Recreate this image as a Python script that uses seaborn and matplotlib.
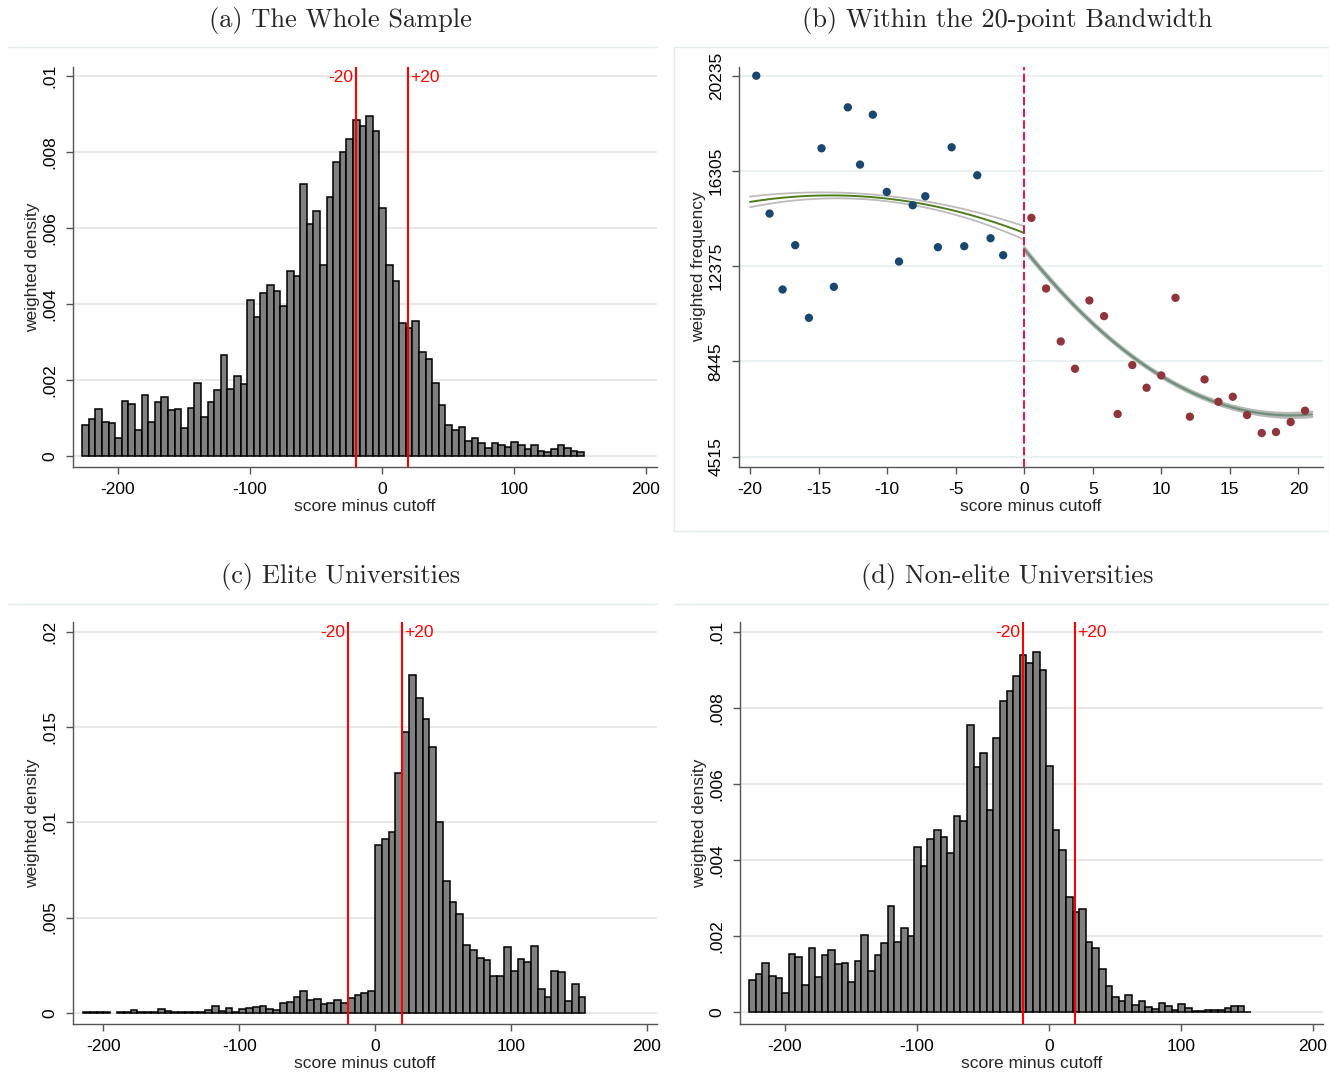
import numpy as np
import pandas as pd
import matplotlib
matplotlib.use("Agg")
import matplotlib.pyplot as plt
import matplotlib.transforms as mtransforms
from matplotlib.lines import Line2D
from matplotlib.patches import Rectangle
import seaborn as sns

# ---------------------------------------------------------------- data
# (a) whole sample: weighted density, 5-point bins starting at -227
whole_bin_start = -227
whole_density = [
    0.000814, 0.000962, 0.001225, 0.000892, 0.000866, 0.000481, 0.001444, 0.001365, 0.000682, 0.001601,
    0.000892, 0.001417, 0.001549, 0.001199, 0.001225, 0.000744, 0.001269, 0.001916, 0.001032, 0.001417,
    0.001724, 0.002651, 0.001750, 0.002100, 0.001900, 0.004112, 0.003657, 0.004287, 0.004506, 0.004348,
    0.003955, 0.004873, 0.004742, 0.007157, 0.006107, 0.006448, 0.005031, 0.006807, 0.007725, 0.007988,
    0.008346, 0.008845, 0.008679, 0.008941, 0.008548, 0.006518, 0.005013, 0.004593, 0.003508, 0.003377,
    0.003552, 0.002747, 0.002563, 0.001907, 0.001339, 0.000822, 0.000682, 0.000752, 0.000394, 0.000464,
    0.000341, 0.000219, 0.000341, 0.000280, 0.000245, 0.000367, 0.000280, 0.000175, 0.000289, 0.000122,
    0.000105, 0.000192, 0.000289, 0.000219, 0.000131, 0.000105,
]

# (c) elite universities: 5-point bins starting at -215
elite_bin_start = -215
elite_density = [
    0.00003, 0.00003, 0.00003, 0.00003, 0.0, 0.00003, 0.00003, 0.00015, 0.00003, 0.00003,
    0.00003, 0.00020, 0.00010, 0.00003, 0.00003, 0.00003, 0.00003, 0.00003, 0.00015, 0.00035,
    0.00011, 0.00025, 0.00005, 0.00020, 0.00024, 0.00029, 0.00034, 0.00021, 0.00016, 0.00050,
    0.00056, 0.00082, 0.00115, 0.00065, 0.00070, 0.00047, 0.00052, 0.00067, 0.00051, 0.00077,
    0.00091, 0.00105, 0.00116, 0.00879, 0.00912, 0.00947, 0.01261, 0.01477, 0.01774, 0.01654,
    0.01544, 0.01397, 0.01004, 0.00693, 0.00583, 0.00516, 0.00356, 0.00330, 0.00288, 0.00277,
    0.00191, 0.00191, 0.00344, 0.00218, 0.00283, 0.00265, 0.00349, 0.00125, 0.00083, 0.00219,
    0.00216, 0.00063, 0.00153, 0.00083,
]

# (d) non-elite universities: 5-point bins starting at -227
nonelite_bin_start = -227
nonelite_density = [
    0.000859, 0.000999, 0.001297, 0.000955, 0.000903, 0.000500, 0.001534, 0.001455, 0.000719, 0.001700,
    0.000938, 0.001507, 0.001648, 0.001271, 0.001297, 0.000789, 0.001341, 0.002033, 0.001087, 0.001507,
    0.001814, 0.002796, 0.001858, 0.002226, 0.002007, 0.004347, 0.003848, 0.004566, 0.004803, 0.004610,
    0.004198, 0.005153, 0.005022, 0.007564, 0.006459, 0.006827, 0.005329, 0.007222, 0.008195, 0.008457,
    0.008852, 0.009386, 0.009176, 0.009483, 0.009001, 0.006477, 0.004803, 0.004277, 0.003041, 0.002629,
    0.002726, 0.001840, 0.001700, 0.001148, 0.000701, 0.000412, 0.000307, 0.000456, 0.000193, 0.000289,
    0.000149, 0.000079, 0.000237, 0.000167, 0.000060, 0.000219, 0.000114, 0.000040, 0.000040, 0.000070,
    0.000050, 0.000050, 0.000105, 0.000167, 0.000167, 0.000020,
]
bin_width = 5

# (b) binned weighted frequency within 20 points of the cutoff
below_score = [-19.54, -18.57, -17.62, -16.70, -15.70, -14.78, -13.88, -12.86, -11.97, -11.04,
               -10.02, -9.13, -8.13, -7.21, -6.29, -5.29, -4.37, -3.42, -2.45, -1.53]
below_freq = [20235, 14547, 11414, 13242, 10246, 17240, 11524, 18930, 16567, 18627,
              15440, 12568, 14890, 15261, 13159, 17281, 13200, 16127, 13530, 12829]
above_score = [0.53, 1.60, 2.67, 3.71, 4.76, 5.83, 6.82, 7.89, 8.93, 10.00,
               11.04, 12.09, 13.16, 14.17, 15.22, 16.26, 17.33, 18.37, 19.44, 20.49]
above_freq = [14368, 11455, 9271, 8144, 10961, 10315, 6275, 8295, 7361, 7869,
              11071, 6166, 7704, 6783, 6989, 6234, 5492, 5533, 5945, 6413]

# quadratic fits: fitted value and CI half-width at three scores on each side
below_fit_x = [-20, -10, 0]
below_fit_y = [15027, 15165, 13750]
below_fit_hw = [220, 110, 275]
above_fit_x = [0, 10, 21]
above_fit_y = [13090, 7842, 6262]
above_fit_hw = [70, 50, 100]

# ticks
hist_xticks = [-200, -100, 0, 100, 200]
hist_xticklabels = ["-200", "-100", "0", "100", "200"]
dens_yticks = [0, 0.002, 0.004, 0.006, 0.008, 0.01]
dens_yticklabels = ["0", ".002", ".004", ".006", ".008", ".01"]
elite_yticks = [0, 0.005, 0.01, 0.015, 0.02]
elite_yticklabels = ["0", ".005", ".01", ".015", ".02"]
freq_yticks = [4515, 8445, 12375, 16305, 20235]
freq_yticklabels = ["4515", "8445", "12375", "16305", "20235"]
band_xticks = [-20, -15, -10, -5, 0, 5, 10, 15, 20]
band_xticklabels = ["-20", "-15", "-10", "-5", "0", "5", "10", "15", "20"]
window = [-20, 20]

titles = ["(a) The Whole Sample", "(b) Within the 20-point Bandwidth",
          "(c) Elite Universities", "(d) Non-elite Universities"]

# ---------------------------------------------------------------- style
sns.set_theme(style="white")
plt.rcParams["font.family"] = ["Liberation Sans", "DejaVu Sans"]
plt.rcParams["axes.unicode_minus"] = False

W, H = 1329, 1085
fig = plt.figure(figsize=(W / 100, H / 100), dpi=100)
fig.patch.set_facecolor("white")

FS = 12.5
SPINE = "#555555"
FRAME = "#e4ecef"


def px_rect(x0, y0, x1, y1):
    return [x0 / W, 1 - y1 / H, (x1 - x0) / W, (y1 - y0) / H]


def style_axes(ax, xlim, ylim, xticks, xtl, yticks, ytl, xlabel, ylabel, gridcolor):
    ax.set_xlim(*xlim)
    ax.set_ylim(*ylim)
    ax.set_facecolor("white")
    ax.set_axisbelow(True)
    for s in ("top", "right"):
        ax.spines[s].set_visible(False)
    for s in ("left", "bottom"):
        ax.spines[s].set_color(SPINE)
        ax.spines[s].set_linewidth(1.0)
    ax.set_xticks(xticks)
    ax.set_xticklabels(xtl, fontsize=FS)
    ax.set_yticks(yticks)
    ax.set_yticklabels(ytl, fontsize=FS, rotation=90, va="center")
    ax.tick_params(axis="both", direction="out", length=5, width=1, color=SPINE,
                   pad=6, labelcolor="black", bottom=True, left=True)
    ax.yaxis.grid(True, color=gridcolor, linewidth=1.4)
    ax.xaxis.grid(False)
    ax.set_xlabel(xlabel, fontsize=FS, labelpad=1)
    ax.set_ylabel(ylabel, fontsize=FS, labelpad=2)


def draw_hist(ax, start, values):
    n = len(values)
    edges = [start + bin_width * i for i in range(n + 1)]
    frame = pd.DataFrame({
        "score": [e + bin_width / 2 for e in edges[:-1]],
        "density": list(values),
    })
    sns.histplot(data=frame, x="score", weights="density", bins=edges, ax=ax,
                 color="#808080", edgecolor="black", linewidth=1.1, alpha=1.0)
    for p in ax.patches:
        if p.get_height() == 0:
            p.set_visible(False)


def draw_window(ax, ytext):
    trans = mtransforms.blended_transform_factory(ax.transData, ax.transAxes)
    for v in window:
        ax.axvline(v, color="red", linewidth=1.5, zorder=5)
    ax.annotate(f"{window[0]}", xy=(window[0], ytext), xycoords=trans,
                xytext=(-1.5, 0), textcoords="offset points",
                ha="right", va="center", color="red", fontsize=FS)
    ax.annotate(f"+{window[1]}", xy=(window[1], ytext), xycoords=trans,
                xytext=(1.5, 0), textcoords="offset points",
                ha="left", va="center", color="red", fontsize=FS)


# faint graph frames
for y in (47, 604):
    fig.add_artist(Line2D([8 / W, 657 / W], [1 - y / H] * 2, color=FRAME, lw=1.0))
fig.add_artist(Line2D([674 / W, 1329 / W], [1 - 604 / H] * 2, color=FRAME, lw=1.0))
fig.add_artist(Rectangle((674 / W, 1 - 531 / H), (1329 - 674) / W, (531 - 47) / H,
                         transform=fig.transFigure, fill=False, ec=FRAME, lw=1.0))

# titles
for txt, (cx, cy) in zip(titles, [(340, 20), (1007, 20), (341, 576), (1007, 576)]):
    fig.text(cx / W, 1 - cy / H, txt, ha="center", va="center",
             fontsize=19, fontfamily="cmr10")

# (a)
ax_a = fig.add_axes(px_rect(73, 67, 657, 467))
draw_hist(ax_a, whole_bin_start, whole_density)
style_axes(ax_a, (-234, 208.3), (-0.000289, 0.010229), hist_xticks, hist_xticklabels,
           dens_yticks, dens_yticklabels, "score minus cutoff", "weighted density", "#e8e8e8")
draw_window(ax_a, 0.975)

# (b)
ax_b = fig.add_axes(px_rect(739, 67, 1323, 467))


def quad_through(xs, ys):
    return np.polyfit(xs, ys, 2)


for fx, fy, fhw, lcol, bcol, lw_line, lw_band in (
        (below_fit_x, below_fit_y, below_fit_hw, "#4e7d1e", "#bdbdbd", 1.4, 1.3),
        (above_fit_x, above_fit_y, above_fit_hw, "#6d8f7c", "#b5b9b5", 1.6, 2.0)):
    grid_x = np.linspace(fx[0], fx[-1], 200)
    fit = np.polyval(quad_through(fx, fy), grid_x)
    hw = np.polyval(quad_through(fx, fhw), grid_x)
    ax_b.plot(grid_x, fit + hw, color=bcol, lw=lw_band, zorder=3)
    ax_b.plot(grid_x, fit - hw, color=bcol, lw=lw_band, zorder=3)
    sns.lineplot(x=grid_x, y=fit, ax=ax_b, color=lcol, lw=lw_line, zorder=4)

sns.scatterplot(x=below_score, y=below_freq, ax=ax_b, color="#1a476f", s=36,
                edgecolor="none", zorder=6)
sns.scatterplot(x=above_score, y=above_freq, ax=ax_b, color="#90353b", s=36,
                edgecolor="none", zorder=6)
ax_b.axvline(0, color="#d8204c", lw=1.5, linestyle=(0, (4, 1.6)), zorder=5)
style_axes(ax_b, (-20.8, 21.8), (4090, 20594), band_xticks, band_xticklabels,
           freq_yticks, freq_yticklabels, "score minus cutoff", "weighted frequency", "#eaf1f3")

# (c)
ax_c = fig.add_axes(px_rect(73, 622, 657, 1024))
draw_hist(ax_c, elite_bin_start, elite_density)
style_axes(ax_c, (-222.4, 207.7), (-0.000594, 0.020526), hist_xticks, hist_xticklabels,
           elite_yticks, elite_yticklabels, "score minus cutoff", "weighted density", "#e8e8e8")
draw_window(ax_c, 0.973)

# (d)
ax_d = fig.add_axes(px_rect(740, 622, 1323, 1024))
draw_hist(ax_d, nonelite_bin_start, nonelite_density)
style_axes(ax_d, (-234, 207.6), (-0.000308, 0.01026), hist_xticks, hist_xticklabels,
           dens_yticks, dens_yticklabels, "score minus cutoff", "weighted density", "#e8e8e8")
draw_window(ax_d, 0.973)

fig.savefig("out.png", dpi=100, facecolor="white")
